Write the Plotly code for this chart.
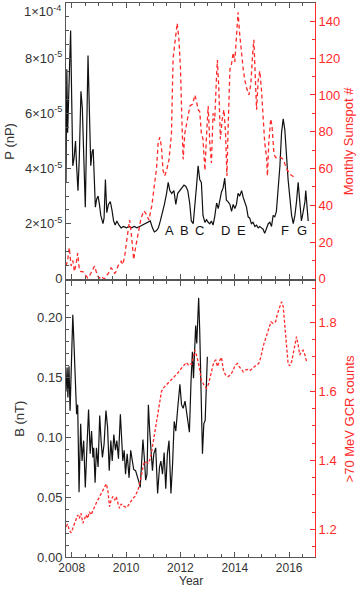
import plotly.graph_objects as go

# ---- top panel: dynamic pressure (units of 1e-5 nP) and monthly sunspot number
p_year = [2007.79, 2007.82, 2007.85, 2007.89, 2007.94, 2007.96, 2008.00, 2008.04, 2008.09, 2008.14,
          2008.18, 2008.23, 2008.28, 2008.34, 2008.39, 2008.44, 2008.50, 2008.55, 2008.60, 2008.65,
          2008.70, 2008.75, 2008.79, 2008.84, 2008.87, 2008.92, 2008.97, 2009.02, 2009.07, 2009.15,
          2009.19, 2009.24, 2009.29, 2009.35, 2009.42, 2009.48, 2009.54, 2009.60, 2009.66, 2009.74,
          2009.82, 2009.91, 2010.01, 2010.11, 2010.20, 2010.30, 2010.40, 2010.50, 2010.60, 2010.70,
          2010.80, 2010.89, 2010.97, 2011.04, 2011.12, 2011.19, 2011.26, 2011.34, 2011.41, 2011.49,
          2011.55, 2011.61, 2011.68, 2011.76, 2011.83, 2011.90, 2011.98, 2012.05, 2012.13, 2012.20,
          2012.27, 2012.34, 2012.40, 2012.47, 2012.53, 2012.59, 2012.65, 2012.71, 2012.77, 2012.83,
          2012.90, 2012.96, 2013.02, 2013.08, 2013.14, 2013.20, 2013.26, 2013.33, 2013.39, 2013.45,
          2013.51, 2013.57, 2013.63, 2013.69, 2013.75, 2013.82, 2013.88, 2013.94, 2014.00, 2014.06,
          2014.12, 2014.18, 2014.25, 2014.31, 2014.37, 2014.43, 2014.49, 2014.55, 2014.61, 2014.67,
          2014.74, 2014.80, 2014.86, 2014.92, 2014.98, 2015.04, 2015.10, 2015.17, 2015.23, 2015.29,
          2015.35, 2015.41, 2015.47, 2015.53, 2015.60, 2015.66, 2015.72, 2015.78, 2015.84, 2015.90,
          2015.96, 2016.02, 2016.09, 2016.15, 2016.21, 2016.27, 2016.33, 2016.39, 2016.45, 2016.51,
          2016.58, 2016.61, 2016.66, 2016.70]
p_val = [3.5, 7.6, 5.3, 6.5, 8.3, 9.0, 6.5, 4.1, 4.4, 5.0,
         4.1, 3.2, 4.4, 6.8, 6.2, 4.1, 2.6, 5.3, 8.1, 6.1,
         4.1, 4.6, 4.7, 3.4, 2.6, 2.9, 3.0, 2.7, 2.3, 2.0,
         2.2, 3.6, 2.4, 2.7, 2.8, 2.5, 2.1, 1.95, 2.1, 1.95,
         1.85, 1.9, 1.85, 1.9, 1.85, 1.9, 1.85, 1.9, 1.95, 2.0,
         2.05, 2.1, 1.85, 1.7, 1.75, 1.85, 2.1, 2.4, 2.7, 3.1,
         3.5, 3.2, 3.1, 3.2, 2.7, 3.1, 3.2, 3.3, 3.4, 3.35,
         3.2, 2.75, 2.1, 2.0, 2.6, 3.35, 4.1, 3.6, 3.5, 2.3,
         2.05, 2.15, 2.05, 2.0, 2.1, 1.95, 2.25, 2.75, 2.55, 2.85,
         3.15, 3.3, 3.65, 2.85, 2.8, 2.7, 2.45, 2.7, 2.55, 2.7,
         3.1, 3.0, 3.2, 2.95, 2.75, 2.6, 2.25, 2.2, 2.0, 2.05,
         1.9, 1.95, 1.85, 1.9, 1.85, 1.8, 1.65, 1.85, 2.0, 2.05,
         1.9, 2.3, 2.25, 2.45, 3.2, 4.1, 5.3, 5.8, 5.4, 4.4,
         3.6, 3.0, 2.3, 2.0, 2.3, 2.8, 3.5, 2.8, 2.1, 2.4,
         2.8, 3.2, 2.6, 2.1]

ssn_year = [2007.79, 2007.85, 2007.91, 2007.98, 2008.04, 2008.10, 2008.16, 2008.22, 2008.28, 2008.34,
            2008.41, 2008.47, 2008.53, 2008.59, 2008.65, 2008.71, 2008.78, 2008.84, 2008.90, 2008.96,
            2009.02, 2009.08, 2009.15, 2009.21, 2009.27, 2009.33, 2009.39, 2009.45, 2009.51, 2009.58,
            2009.64, 2009.70, 2009.76, 2009.82, 2009.88, 2009.95, 2010.01, 2010.07, 2010.13, 2010.19,
            2010.28, 2010.36, 2010.45, 2010.55, 2010.66, 2010.75, 2010.84, 2010.95, 2011.05, 2011.12,
            2011.18, 2011.24, 2011.30, 2011.36, 2011.42, 2011.49, 2011.58, 2011.67, 2011.73, 2011.80,
            2011.88, 2011.94, 2012.00, 2012.05, 2012.10, 2012.16, 2012.25, 2012.35, 2012.45, 2012.53,
            2012.60, 2012.65, 2012.71, 2012.77, 2012.83, 2012.90, 2012.96, 2013.02, 2013.08, 2013.14,
            2013.20, 2013.26, 2013.33, 2013.36, 2013.41, 2013.47, 2013.53, 2013.60, 2013.66, 2013.71,
            2013.75, 2013.82, 2013.88, 2013.94, 2014.00, 2014.06, 2014.12, 2014.18, 2014.25, 2014.31,
            2014.37, 2014.43, 2014.52, 2014.59, 2014.65, 2014.70, 2014.74, 2014.80, 2014.86, 2014.92,
            2014.98, 2015.04, 2015.10, 2015.17, 2015.20, 2015.25, 2015.32, 2015.37, 2015.44, 2015.50,
            2015.60, 2015.69, 2015.78, 2015.90, 2016.02, 2016.21]
ssn_val = [7, 10, 17, 7, 10, 4, 8, 14, 5, 4,
           4, 3, 1.5, 0.5, 1.5, 3, 5, 7, 4, 1.5,
           0.5, 1.5, 0.5, 0, 1.5, 2.5, 4, 6, 5, 3,
           4, 7, 8.7, 9.6, 7.8, 12.3, 19.5, 26.8, 32, 25,
           10.5, 18, 26, 33, 37, 35, 32, 40, 52, 60,
           74, 77, 72, 59, 56, 59, 65, 79, 120, 130,
           139, 131, 115, 88, 65, 79, 86, 94, 95, 100,
           96, 92, 91, 79, 76, 59, 78, 94, 74, 63,
           90, 86, 111, 119, 104, 76, 86, 92, 79, 56,
           80, 114, 117, 123, 118, 132, 145, 133, 121, 114,
           108, 104, 100, 106, 121, 130, 115, 92, 108, 113,
           103, 90, 74, 66, 56, 74, 87, 83, 68, 66,
           66, 66, 65, 60, 57, 55]

event_labels = ["A", "B", "C", "D", "E", "F", "G"]
event_years = [2011.6, 2012.15, 2012.7, 2013.66, 2014.25, 2015.83, 2016.46]
event_level = 1.75

# ---- bottom panel: IMF B (nT) and >70 MeV GCR counts
b_year = [2007.79, 2007.83, 2007.86, 2007.90, 2007.94, 2007.99, 2008.04, 2008.09, 2008.14, 2008.18,
          2008.22, 2008.27, 2008.33, 2008.38, 2008.44, 2008.50, 2008.55, 2008.62, 2008.68, 2008.73,
          2008.78, 2008.81, 2008.86, 2008.91, 2008.97, 2009.03, 2009.08, 2009.13, 2009.19, 2009.26,
          2009.32, 2009.38, 2009.44, 2009.49, 2009.55, 2009.61, 2009.66, 2009.72, 2009.79, 2009.83,
          2009.88, 2009.93, 2009.98, 2010.04, 2010.11, 2010.17, 2010.22, 2010.28, 2010.35, 2010.41,
          2010.48, 2010.52, 2010.57, 2010.62, 2010.67, 2010.72, 2010.77, 2010.82, 2010.87, 2010.92,
          2010.97, 2011.02, 2011.09, 2011.16, 2011.23, 2011.28, 2011.34, 2011.40, 2011.46, 2011.52,
          2011.58, 2011.65, 2011.71, 2011.77, 2011.83, 2011.90, 2011.98, 2012.04, 2012.10, 2012.17,
          2012.24, 2012.30, 2012.33, 2012.39, 2012.44, 2012.48, 2012.53, 2012.56, 2012.60, 2012.64,
          2012.67, 2012.71, 2012.75, 2012.79, 2012.81, 2012.86, 2012.91, 2012.96, 2012.99]
b_val = [0.138, 0.158, 0.133, 0.159, 0.122, 0.155, 0.202, 0.174, 0.147, 0.119,
         0.127, 0.054, 0.111, 0.080, 0.097, 0.058, 0.086, 0.123, 0.086, 0.105,
         0.083, 0.091, 0.062, 0.091, 0.075, 0.118, 0.097, 0.083, 0.094, 0.122,
         0.108, 0.072, 0.097, 0.080, 0.102, 0.089, 0.097, 0.082, 0.119, 0.105,
         0.080, 0.089, 0.069, 0.086, 0.066, 0.089, 0.083, 0.073, 0.072, 0.068,
         0.062, 0.058, 0.075, 0.098, 0.083, 0.064, 0.069, 0.127, 0.105, 0.086,
         0.072, 0.086, 0.091, 0.053, 0.075, 0.080, 0.069, 0.087, 0.057, 0.086,
         0.097, 0.053, 0.077, 0.113, 0.105, 0.124, 0.144, 0.127, 0.124, 0.130,
         0.119, 0.108, 0.104, 0.147, 0.171, 0.149, 0.171, 0.193, 0.178, 0.196,
         0.216, 0.188, 0.147, 0.102, 0.086, 0.111, 0.114, 0.147, 0.167]

gcr_year = [2007.79, 2007.85, 2007.91, 2007.98, 2008.04, 2008.10, 2008.16, 2008.22, 2008.28, 2008.34,
            2008.41, 2008.47, 2008.53, 2008.59, 2008.65, 2008.71, 2008.78, 2008.84, 2008.90, 2008.96,
            2009.02, 2009.08, 2009.15, 2009.21, 2009.27, 2009.33, 2009.39, 2009.45, 2009.51, 2009.58,
            2009.64, 2009.70, 2009.76, 2009.82, 2009.88, 2009.95, 2010.01, 2010.07, 2010.13, 2010.19,
            2010.25, 2010.32, 2010.38, 2010.44, 2010.50, 2010.56, 2010.62, 2010.68, 2010.75, 2010.81,
            2010.87, 2010.93, 2010.99, 2011.05, 2011.12, 2011.18, 2011.24, 2011.30, 2011.36, 2011.42,
            2011.49, 2011.55, 2011.61, 2011.67, 2011.73, 2011.79, 2011.85, 2011.92, 2011.98, 2012.04,
            2012.10, 2012.16, 2012.22, 2012.29, 2012.35, 2012.41, 2012.47, 2012.53, 2012.61, 2012.69,
            2012.77, 2012.86, 2012.96, 2013.04, 2013.14, 2013.23, 2013.30, 2013.36, 2013.42, 2013.51,
            2013.58, 2013.66, 2013.75, 2013.85, 2013.94, 2014.02, 2014.10, 2014.16, 2014.25, 2014.31,
            2014.39, 2014.47, 2014.55, 2014.64, 2014.71, 2014.80, 2014.88, 2014.96, 2015.04, 2015.13,
            2015.23, 2015.33, 2015.41, 2015.50, 2015.57, 2015.66, 2015.72, 2015.78, 2015.84, 2015.90,
            2015.96, 2016.02, 2016.09, 2016.15, 2016.21, 2016.27, 2016.33, 2016.39, 2016.45, 2016.51,
            2016.58, 2016.64]
gcr_val = [1.208, 1.215, 1.198, 1.190, 1.203, 1.218, 1.232, 1.242, 1.232, 1.247,
           1.218, 1.232, 1.242, 1.232, 1.251, 1.242, 1.256, 1.266, 1.276, 1.285,
           1.295, 1.305, 1.314, 1.322, 1.332, 1.314, 1.266, 1.285, 1.295, 1.285,
           1.295, 1.276, 1.261, 1.274, 1.268, 1.266, 1.263, 1.268, 1.276, 1.285,
           1.290, 1.295, 1.305, 1.314, 1.334, 1.353, 1.382, 1.397, 1.394, 1.392,
           1.401, 1.420, 1.449, 1.478, 1.517, 1.546, 1.575, 1.599, 1.609, 1.614,
           1.619, 1.624, 1.628, 1.633, 1.641, 1.643, 1.648, 1.655, 1.662, 1.667,
           1.672, 1.680, 1.684, 1.677, 1.681, 1.678, 1.700, 1.720, 1.700, 1.672,
           1.633, 1.619, 1.609, 1.623, 1.657, 1.686, 1.691, 1.672, 1.686, 1.699,
           1.662, 1.648, 1.643, 1.648, 1.662, 1.677, 1.681, 1.672, 1.664, 1.657,
           1.662, 1.664, 1.660, 1.667, 1.670, 1.677, 1.681, 1.700, 1.730, 1.754,
           1.778, 1.802, 1.797, 1.802, 1.826, 1.850, 1.860, 1.846, 1.797, 1.739,
           1.681, 1.674, 1.686, 1.710, 1.739, 1.759, 1.735, 1.706, 1.715, 1.720,
           1.706, 1.686]

p_ticks = [0, 2, 4, 6, 8, 10]
p_ticktext = ["0", "2×10<sup>-5</sup>", "4×10<sup>-5</sup>", "6×10<sup>-5</sup>",
              "8×10<sup>-5</sup>", ""]
p_top_label = "1×10<sup>-4</sup>"

BLACK = "#111111"
RED = "#ff2a2a"
AXIS = "#555555"
TXT = "#333333"
FONT = "Liberation Sans"

fig = go.Figure()
fig.add_trace(go.Scatter(x=p_year, y=p_val, mode="lines", xaxis="x", yaxis="y",
                         line=dict(color=BLACK, width=1.2)))
fig.add_trace(go.Scatter(x=ssn_year, y=ssn_val, mode="lines", xaxis="x", yaxis="y2",
                         line=dict(color=RED, width=1.3, dash="4px,3px")))
fig.add_trace(go.Scatter(x=b_year, y=b_val, mode="lines", xaxis="x2", yaxis="y3",
                         line=dict(color=BLACK, width=1.2)))
fig.add_trace(go.Scatter(x=gcr_year, y=gcr_val, mode="lines", xaxis="x2", yaxis="y4",
                         line=dict(color=RED, width=1.3, dash="3px,2px")))

for lab, yr in zip(event_labels, event_years):
    fig.add_annotation(x=yr, y=event_level, xref="x", yref="y", text=lab, showarrow=False,
                       font=dict(size=13, color=BLACK, family=FONT))

xcommon = dict(range=[2007.79, 2016.95], showgrid=False, zeroline=False, showline=True,
               linecolor=AXIS, linewidth=1, mirror="ticks", ticks="inside", ticklen=5,
               tickcolor=AXIS, dtick=2, tick0=2008,
               minor=dict(dtick=0.5, ticks="inside", ticklen=3, tickcolor=AXIS),
               tickfont=dict(size=12, color=TXT, family=FONT))
left = dict(showgrid=False, zeroline=False, showline=True, linecolor=AXIS, linewidth=1,
            ticks="inside", ticklen=5, tickcolor=AXIS,
            tickfont=dict(size=13, color=TXT, family=FONT))
right = dict(showgrid=False, zeroline=False, showline=True, linecolor=RED, linewidth=1,
             ticks="inside", ticklen=5, tickcolor=RED, side="right",
             tickfont=dict(size=13, color=RED, family=FONT))

fig.update_layout(
    width=358, height=589, showlegend=False,
    paper_bgcolor="white", plot_bgcolor="white",
    margin=dict(l=65.5, r=42.5, t=3, b=32),
    xaxis=dict(xcommon, anchor="y", showticklabels=False),
    xaxis2=dict(xcommon, anchor="y3", matches="x"),
    yaxis=dict(left, domain=[0.502, 1], range=[0, 10], tickvals=p_ticks, ticktext=p_ticktext,
               minor=dict(dtick=0.5, ticks="inside", ticklen=3, tickcolor=AXIS)),
    yaxis2=dict(right, overlaying="y", anchor="x", range=[0, 150], dtick=20,
                minor=dict(dtick=10, ticks="inside", ticklen=3, tickcolor=RED)),
    yaxis3=dict(left, domain=[0, 0.498], anchor="x2", range=[0, 0.23], dtick=0.05,
                tickformat=".2f",
                minor=dict(dtick=0.01, ticks="inside", ticklen=3, tickcolor=AXIS)),
    yaxis4=dict(right, overlaying="y3", anchor="x2", range=[1.12, 1.92], dtick=0.2, tick0=1.2,
                tickformat=".1f",
                minor=dict(dtick=0.05, ticks="inside", ticklen=3, tickcolor=RED)),
)

# top P label sits just below the frame edge, as in the original
fig.add_annotation(x=-0.014, y=10, xref="paper", yref="y", text=p_top_label, showarrow=False,
                   xanchor="right", yanchor="top", yshift=2,
                   font=dict(size=13, color=TXT, family=FONT))

# axis titles as rotated text beside each panel
titles = [("P (nP)", -0.226, 0.751, TXT), ("Monthly Sunspot #", 1.138, 0.751, RED),
          ("B (nT)", -0.19, 0.249, TXT), (">70 MeV GCR counts", 1.138, 0.249, RED)]
for text, xp, yp, col in titles:
    fig.add_annotation(x=xp, y=yp, xref="paper", yref="paper", text=text, showarrow=False,
                       textangle=-90, xanchor="center", yanchor="middle",
                       font=dict(size=13, color=col, family=FONT))
fig.add_annotation(x=0.5, y=-0.0578, xref="paper", yref="paper", text="Year", showarrow=False,
                   yanchor="bottom", borderpad=0,
                   font=dict(size=12, color=TXT, family=FONT))

fig.write_html("out.html", config={"displayModeBar": False},
               post_script="document.body.style.margin='0';")
